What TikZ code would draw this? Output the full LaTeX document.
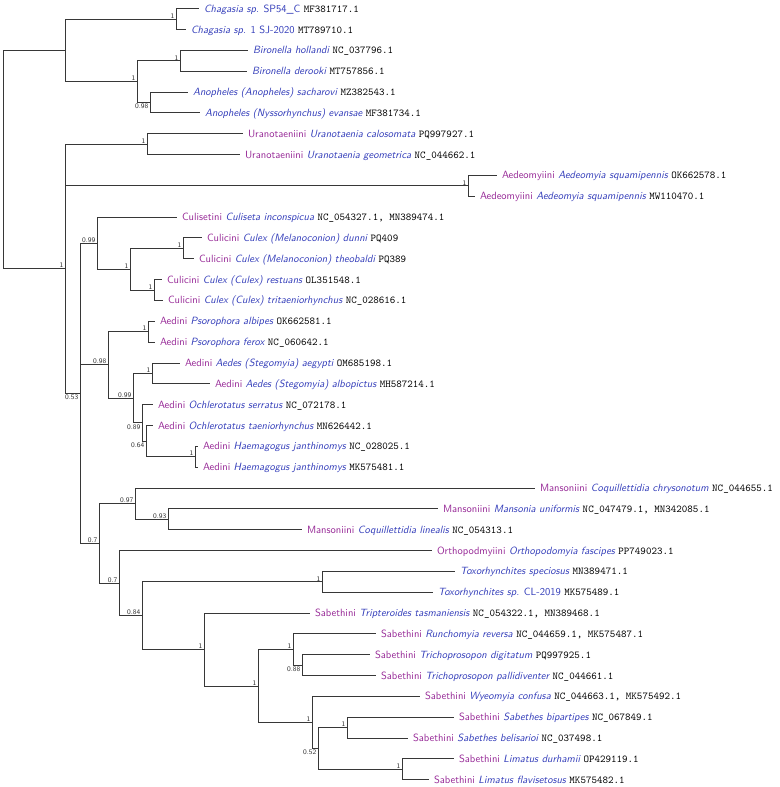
\documentclass[tikz,border=0pt]{standalone}
\usepackage{xcolor}
\definecolor{tribecol}{RGB}{150,40,150}
\definecolor{taxoncol}{RGB}{50,60,185}
\definecolor{branchcol}{RGB}{55,55,55}
\newcommand{\trb}[1]{\textcolor{tribecol}{#1}}
\newcommand{\spn}[1]{\textcolor{taxoncol}{\itshape #1}}
\newcommand{\spu}[1]{\textcolor{taxoncol}{#1}}
\newcommand{\acc}[1]{{\ttfamily #1}}
\tikzset{
  br/.style={draw=branchcol, line width=0.9pt},
  leaf/.style={anchor=west, inner xsep=5pt, inner ysep=0pt, outer sep=0pt,
    text height=9.5pt, text depth=2.5pt,
    font=\sffamily\fontsize{10.5}{12}\selectfont},
  sup/.style={inner xsep=1.5pt, text=black!80, font=\sffamily\fontsize{7}{8}\selectfont},
  sa/.style={sup, anchor=south east, inner ysep=0.6pt},
  sb/.style={sup, anchor=north east, inner ysep=1.5pt}
}
\begin{document}
\begin{tikzpicture}[x=1pt,y=-1pt]
\useasboundingbox (0,0) rectangle (779,787);
% internal nodes
\coordinate (root) at (3.5,159.54);
\coordinate (AN) at (65,50.38);
\coordinate (Chag) at (176,19.12);
\coordinate (BA) at (137,81.64);
\coordinate (Biro) at (180,60.8);
\coordinate (Anoph) at (150,102.48);
\coordinate (CU) at (65,268.7);
\coordinate (Uran) at (147,144.16);
\coordinate (Aedeo) at (468,185.84);
\coordinate (nA) at (80,393.27);
\coordinate (nB) at (97,243.15);
\coordinate (Culex) at (130,269.2);
\coordinate (CulMel) at (183,248.36);
\coordinate (CulCul) at (154,290.04);
\coordinate (nC) at (108,364.9);
\coordinate (Psor) at (148,331.72);
\coordinate (nD) at (133,398.15);
\coordinate (Aedes) at (152,373.4);
\coordinate (nE) at (142,422.9);
\coordinate (nF) at (146,441.13);
\coordinate (Haem) at (195,456.76);
\coordinate (nG) at (99,543.38);
\coordinate (nH) at (135,503.65);
\coordinate (nI) at (168,519.28);
\coordinate (nJ) at (119,583.1);
\coordinate (nK) at (142,615.67);
\coordinate (Toxo) at (322,581.8);
\coordinate (nTri) at (204,649.53);
\coordinate (nSab) at (258,686.0);
\coordinate (nRT) at (293,649.53);
\coordinate (nL) at (302,665.16);
\coordinate (nW) at (312,722.47);
\coordinate (nM) at (318,748.52);
\coordinate (nSb) at (347,727.68);
\coordinate (Lim) at (402,769.36);
% leaves
\node[leaf] (l1) at (199,8.7) {\spn{Chagasia sp.} \spu{SP54\_C} \acc{MF381717.1}};
\node[leaf] (l2) at (186,29.54) {\spn{Chagasia sp.} \spu{1 SJ-2020} \acc{MT789710.1}};
\node[leaf] (l3) at (248,50.38) {\spn{Bironella hollandi} \acc{NC\_037796.1}};
\node[leaf] (l4) at (247,71.22) {\spn{Bironella derooki} \acc{MT757856.1}};
\node[leaf] (l5) at (188,92.06) {\spn{Anopheles (Anopheles) sacharovi} \acc{MZ382543.1}};
\node[leaf] (l6) at (200,112.9) {\spn{Anopheles (Nyssorhynchus) evansae} \acc{MF381734.1}};
\node[leaf] (l7) at (243,133.74) {\trb{Uranotaeniini} \spn{Uranotaenia calosomata} \acc{PQ997927.1}};
\node[leaf] (l8) at (240,154.58) {\trb{Uranotaeniini} \spn{Uranotaenia geometrica} \acc{NC\_044662.1}};
\node[leaf] (l9) at (497,175.42) {\trb{Aedeomyiini} \spn{Aedeomyia squamipennis} \acc{OK662578.1}};
\node[leaf] (l10) at (475,196.26) {\trb{Aedeomyiini} \spn{Aedeomyia squamipennis} \acc{MW110470.1}};
\node[leaf] (l11) at (177,217.1) {\trb{Culisetini} \spn{Culiseta inconspicua} \acc{NC\_054327.1, MN389474.1}};
\node[leaf] (l12) at (202,237.94) {\trb{Culicini} \spn{Culex (Melanoconion) dunni} \acc{PQ409}};
\node[leaf] (l13) at (194,258.78) {\trb{Culicini} \spn{Culex (Melanoconion) theobaldi} \acc{PQ389}};
\node[leaf] (l14) at (162,279.62) {\trb{Culicini} \spn{Culex (Culex) restuans} \acc{OL351548.1}};
\node[leaf] (l15) at (163,300.46) {\trb{Culicini} \spn{Culex (Culex) tritaeniorhynchus} \acc{NC\_028616.1}};
\node[leaf] (l16) at (155,321.3) {\trb{Aedini} \spn{Psorophora albipes} \acc{OK662581.1}};
\node[leaf] (l17) at (155,342.14) {\trb{Aedini} \spn{Psorophora ferox} \acc{NC\_060642.1}};
\node[leaf] (l18) at (180,362.98) {\trb{Aedini} \spn{Aedes (Stegomyia) aegypti} \acc{OM685198.1}};
\node[leaf] (l19) at (210,383.82) {\trb{Aedini} \spn{Aedes (Stegomyia) albopictus} \acc{MH587214.1}};
\node[leaf] (l20) at (153,404.66) {\trb{Aedini} \spn{Ochlerotatus serratus} \acc{NC\_072178.1}};
\node[leaf] (l21) at (153,425.5) {\trb{Aedini} \spn{Ochlerotatus taeniorhynchus} \acc{MN626442.1}};
\node[leaf] (l22) at (198,446.34) {\trb{Aedini} \spn{Haemagogus janthinomys} \acc{NC\_028025.1}};
\node[leaf] (l23) at (198,467.18) {\trb{Aedini} \spn{Haemagogus janthinomys} \acc{MK575481.1}};
\node[leaf] (l24) at (535,488.02) {\trb{Mansoniini} \spn{Coquillettidia chrysonotum} \acc{NC\_044655.1}};
\node[leaf] (l25) at (438,508.86) {\trb{Mansoniini} \spn{Mansonia uniformis} \acc{NC\_047479.1, MN342085.1}};
\node[leaf] (l26) at (302,529.7) {\trb{Mansoniini} \spn{Coquillettidia linealis} \acc{NC\_054313.1}};
\node[leaf] (l27) at (432,550.54) {\trb{Orthopodmyiini} \spn{Orthopodomyia fascipes} \acc{PP749023.1}};
\node[leaf] (l28) at (455,571.38) {\spn{Toxorhynchites speciosus} \acc{MN389471.1}};
\node[leaf] (l29) at (433,592.22) {\spn{Toxorhynchites sp.} \spu{CL-2019} \acc{MK575489.1}};
\node[leaf] (l30) at (310,613.06) {\trb{Sabethini} \spn{Tripteroides tasmaniensis} \acc{NC\_054322.1, MN389468.1}};
\node[leaf] (l31) at (376,633.9) {\trb{Sabethini} \spn{Runchomyia reversa} \acc{NC\_044659.1, MK575487.1}};
\node[leaf] (l32) at (370,654.74) {\trb{Sabethini} \spn{Trichoprosopon digitatum} \acc{PQ997925.1}};
\node[leaf] (l33) at (376,675.58) {\trb{Sabethini} \spn{Trichoprosopon pallidiventer} \acc{NC\_044661.1}};
\node[leaf] (l34) at (420,696.42) {\trb{Sabethini} \spn{Wyeomyia confusa} \acc{NC\_044663.1, MK575492.1}};
\node[leaf] (l35) at (454,717.26) {\trb{Sabethini} \spn{Sabethes bipartipes} \acc{NC\_067849.1}};
\node[leaf] (l36) at (408,738.1) {\trb{Sabethini} \spn{Sabethes belisarioi} \acc{NC\_037498.1}};
\node[leaf] (l37) at (454,758.94) {\trb{Sabethini} \spn{Limatus durhamii} \acc{OP429119.1}};
\node[leaf] (l38) at (429,779.78) {\trb{Sabethini} \spn{Limatus flavisetosus} \acc{MK575482.1}};
% branches between internal nodes
\foreach \a/\b in {root/AN, root/CU, AN/Chag, AN/BA, BA/Biro, BA/Anoph,
  CU/Uran, CU/Aedeo, CU/nA, nA/nB, nA/nC, nA/nG, nB/Culex, Culex/CulMel, Culex/CulCul,
  nC/Psor, nC/nD, nD/Aedes, nD/nE, nE/nF, nF/Haem, nG/nH, nG/nJ, nH/nI,
  nJ/nK, nK/Toxo, nK/nTri, nTri/nSab, nSab/nRT, nSab/nW, nRT/nL, nW/nM, nM/nSb, nM/Lim}
  \draw[br] (\a) |- (\b);
% terminal branches
\foreach \a/\b in {Chag/l1, Chag/l2, Biro/l3, Biro/l4, Anoph/l5, Anoph/l6, Uran/l7, Uran/l8,
  Aedeo/l9, Aedeo/l10, nB/l11, CulMel/l12, CulMel/l13, CulCul/l14, CulCul/l15,
  Psor/l16, Psor/l17, Aedes/l18, Aedes/l19, nE/l20, nF/l21, Haem/l22, Haem/l23,
  nH/l24, nI/l25, nI/l26, nJ/l27, Toxo/l28, Toxo/l29, nTri/l30, nRT/l31, nL/l32, nL/l33,
  nW/l34, nSb/l35, nSb/l36, Lim/l37, Lim/l38}
  \draw[br] (\a) |- (\b.west);
% support values
\foreach \n/\v in {Chag/1, Biro/1, BA/1, CU/1, Uran/1, Aedeo/1, nB/0.99, Culex/1, CulMel/1,
  CulCul/1, nC/0.98, Psor/1, nD/0.99, Aedes/1, Haem/1, nG/0.7, nH/0.97, nI/0.93, nJ/0.7,
  Toxo/1, nK/0.84, nTri/1, nSab/1, nRT/1, nW/1, nSb/1, Lim/1}
  \node[sa] (s\n) at (\n) {\v};
\foreach \n/\v in {Anoph/0.98, nA/0.53, nE/0.89, nF/0.64, nL/0.88, nM/0.52}
  \node[sb] (s\n) at (\n) {\v};
\end{tikzpicture}
\end{document}
